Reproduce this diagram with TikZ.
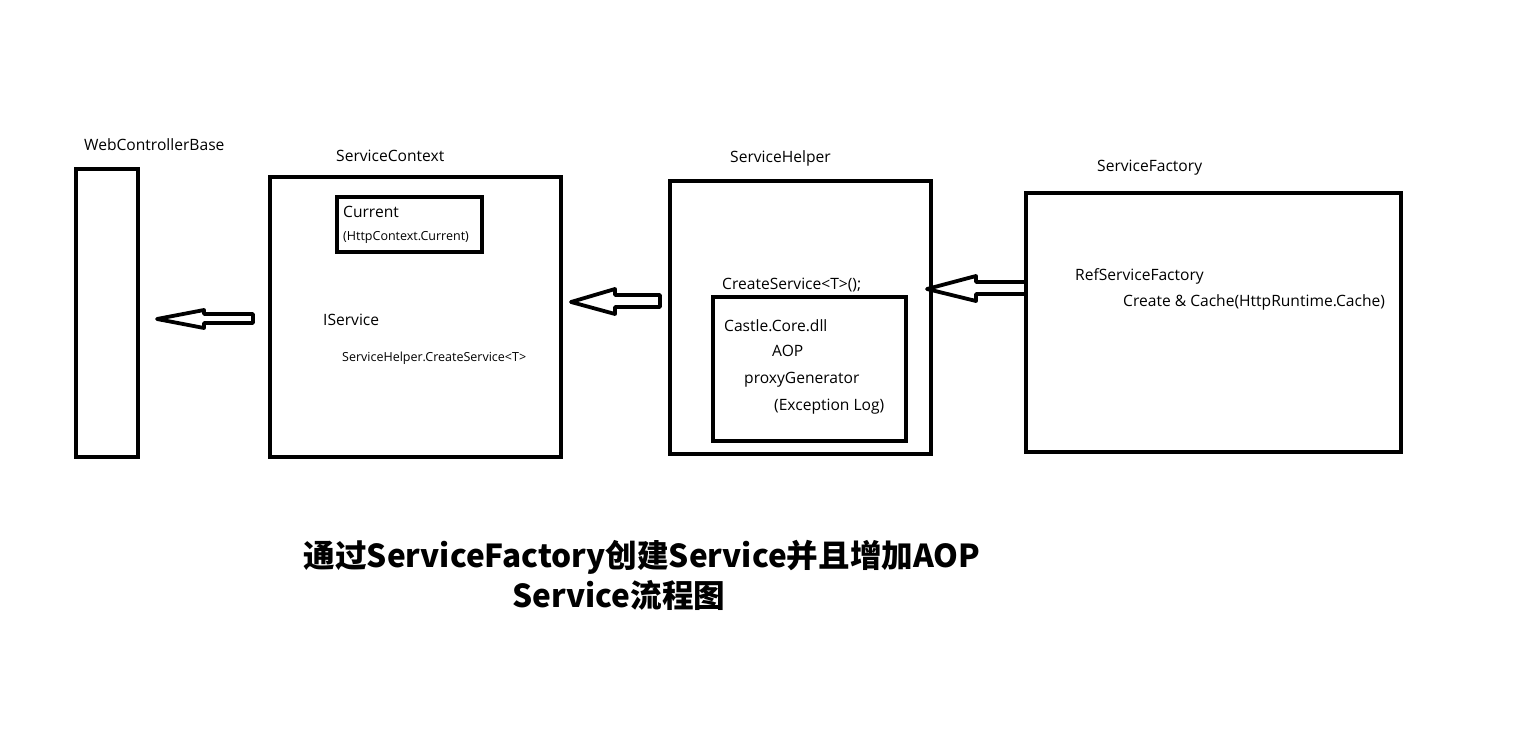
\documentclass[tikz,border=0pt]{standalone}
\usepackage{fontspec}
\setmainfont{Open Sans}
\newfontfamily\cjk{Noto Sans CJK SC}
\begin{document}
\begin{tikzpicture}[x=1pt, y=-1pt, every node/.style={inner sep=0pt, font=\fontsize{15.6}{18}\selectfont}]
  \tikzstyle{box}=[draw, line width=4.5pt, inner sep=0pt]
  \tikzstyle{lbl}=[anchor=base west]
  \tikzstyle{small}=[anchor=base west, font=\fontsize{12.5}{14}\selectfont]
  \tikzstyle{fat}=[draw, line width=3.8pt, line join=round]
  \useasboundingbox (0,0) rectangle (1524,736);
  % boxes
  \node[box, minimum width=62pt, minimum height=288pt]  (web)    at (107,313)     {};
  \node[box, minimum width=291pt, minimum height=280pt] (sc)     at (415.5,317)   {};
  \node[box, minimum width=145pt, minimum height=55pt]  (cur)    at (409.5,224.5) {};
  \node[box, minimum width=261pt, minimum height=273pt] (sh)     at (800.5,317.5) {};
  \node[box, minimum width=193pt, minimum height=144pt] (castle) at (809.5,369)   {};
  \node[box, minimum width=375pt, minimum height=259pt] (sf)     at (1213.5,322.5){};
  % titles
  \node[lbl] (webT) at (84,150)   {WebControllerBase};
  \node[lbl] (scT)  at (336,161)  {ServiceContext};
  \node[lbl] (shT)  at (730,162)  {ServiceHelper};
  \node[lbl] (sfT)  at (1097,171) {ServiceFactory};
  % texts
  \node[lbl]   (curA) at (343,217) {Current};
  \node[small] (curB) at (343,240) {(HttpContext.Current)};
  \node[lbl]   (isv)  at (323,325) {IService};
  \node[small] (isvB) at (342,361) {ServiceHelper.CreateService<T>};
  \node[lbl]   (crs)  at (722,289) {CreateService<T>();};
  \node[lbl]   (cc)   at (724,331) {Castle.Core.dll};
  \node[lbl]   (aop)  at (772,356) {AOP};
  \node[lbl]   (pxg)  at (744,383) {proxyGenerator};
  \node[lbl]   (exl)  at (774,410) {(Exception Log)};
  \node[lbl]   (rsf)  at (1075,280) {RefServiceFactory};
  \node[lbl]   (cch)  at (1123,306) {Create \& Cache(HttpRuntime.Cache)};
  % block arrows
  \draw[fat] (157,319) -- (204,310) -- (204,314) -- (253,314) -- (253,323) -- (204,323) -- (204,328) -- cycle;
  \draw[fat] (571,302) -- (615,289) -- (615,295) -- (660,295) -- (660,307) -- (615,307) -- (615,314) -- cycle;
  \draw[fat] (927,289) -- (976,276) -- (976,282) -- (1026,282) -- (1026,294) -- (976,294) -- (976,301) -- cycle;
  % caption
  \node[anchor=base, font=\cjk\bfseries\fontsize{31.6}{38}\selectfont] (capA) at (642,567) {通过ServiceFactory创建Service并且增加AOP};
  \node[anchor=base, font=\cjk\bfseries\fontsize{31.6}{38}\selectfont] (capB) at (619,607) {Service流程图};
\end{tikzpicture}
\end{document}
